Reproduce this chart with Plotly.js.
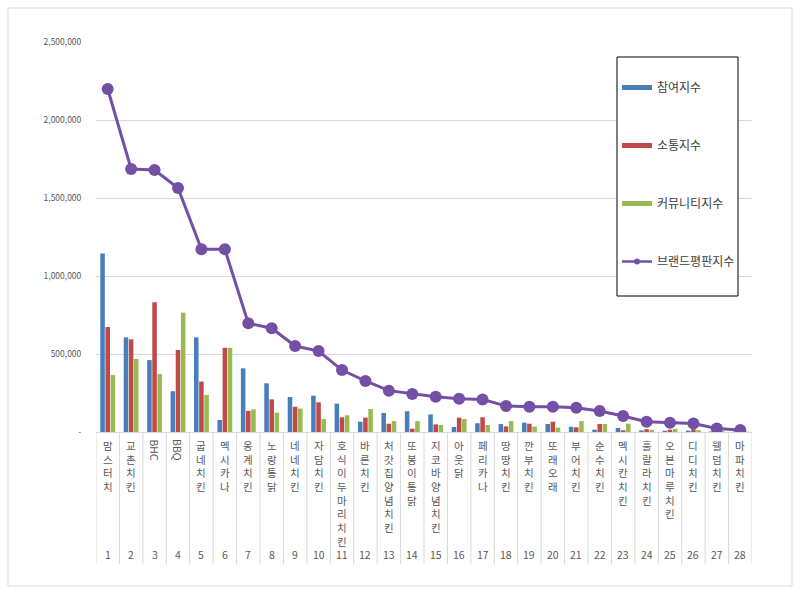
<!DOCTYPE html>
<html>
<head>
<meta charset="utf-8">
<script src="https://cdn.plot.ly/plotly-3.0.1.min.js"></script>
<style>html,body{margin:0;padding:0;background:#fff;}#chart{width:800px;height:594px;}</style>
</head>
<body>
<div id="chart"></div>
<script>
const categories = ["맘스터치","교촌치킨","BHC","BBQ","굽네치킨","멕시카나","옹계치킨","노랑통닭","네네치킨","자담치킨","호식이두마리치킨","바른치킨","처갓집양념치킨","또봉이통닭","지코바양념치킨","아웃닭","페리카나","땅땅치킨","깐부치킨","또래오래","부어치킨","순수치킨","멕시칸치킨","훌랄라치킨","오븐마루치킨","디디치킨","웰덤치킨","마파치킨"];
const ranks = ["1","2","3","4","5","6","7","8","9","10","11","12","13","14","15","16","17","18","19","20","21","22","23","24","25","26","27","28"];
const participation = [1145000,607000,461000,261000,607000,77000,408000,312000,224000,233000,182000,66000,122000,133000,113000,32000,56000,51000,60000,51000,34000,15000,26000,10000,8000,9000,4000,3000];
const communication = [673000,594000,831000,526000,323000,540000,135000,209000,162000,190000,94000,92000,53000,21000,49000,92000,94000,36000,53000,66000,30000,51000,11000,18000,15000,18000,8000,5000];
const community = [365000,468000,372000,765000,237000,540000,145000,124000,150000,83000,107000,147000,70000,70000,45000,83000,45000,70000,34000,28000,70000,51000,53000,14000,20000,12000,6000,4000];
const brandIndex = [2199000,1686000,1679000,1564000,1171000,1171000,697000,665000,551000,519000,397000,327000,265000,244000,226000,213000,209000,167000,162000,162000,156000,135000,103000,66000,60000,55000,23000,13000];
const seriesNames = ["참여지수","소통지수","커뮤니티지수","브랜드평판지수"];
const yTickVals = [0,500000,1000000,1500000,2000000,2500000];
const yTickText = ["-","500,000","1,000,000","1,500,000","2,000,000","2,500,000"];

const colors = ["#4a7ebb","#be4b48","#98b954","#7350a6"];
const font = "Noto Sans CJK KR, Noto Sans, sans-serif";

const traces = [];
[participation, communication, community].forEach((vals, i) => {
  traces.push({type:"bar", x:categories, y:vals, name:seriesNames[i], marker:{color:colors[i]}, showlegend:false, hoverinfo:"y"});
});
traces.push({type:"scatter", mode:"lines+markers", x:categories, y:brandIndex, name:seriesNames[3],
  line:{color:colors[3], width:3}, marker:{color:colors[3], size:12}, showlegend:false});
// legend entries
[0,1,2].forEach(i => traces.push({type:"scatter", mode:"lines", x:[null], y:[null], name:seriesNames[i],
  line:{color:colors[i], width:5}, legendgroup:"g"+i, hoverinfo:"skip"}));
traces.push({type:"scatter", mode:"lines+markers", x:[null], y:[null], name:seriesNames[3],
  line:{color:colors[3], width:2.5}, marker:{color:colors[3], size:6}, legendgroup:"g3", hoverinfo:"skip"});

const L = 96, R = 48, T = 42, B = 162;
const W = 800 - L - R, H = 594 - T - B;
const px = v => (v - L) / W;
const py = v => (594 - B - v) / H;

const annotations = [];
const shapes = [];
categories.forEach((c, i) => {
  const latin = /^[A-Za-z]+$/.test(c);
  if (latin) {
    annotations.push({x:c, xref:"x", y:py(437), yref:"paper", yanchor:"top", xanchor:"center", textangle:90,
      text:c, showarrow:false, font:{family:font, size:10.5, color:"#595959"}});
  } else {
    annotations.push({x:c, xref:"x", y:py(436), yref:"paper", yanchor:"top", xanchor:"center",
      text:Array.from(c).join("<br>"), showarrow:false, font:{family:font, size:10.5, color:"#595959"}});
  }
  annotations.push({x:c, xref:"x", y:py(554), yref:"paper", yanchor:"middle", xanchor:"center",
    text:ranks[i], showarrow:false, font:{family:font, size:10.5, color:"#595959"}});
});
for (let i = 0; i <= categories.length; i++) {
  shapes.push({type:"line", xref:"x", x0:i-0.5, x1:i-0.5, yref:"paper", y0:0, y1:py(564), line:{color:"#d9d9d9", width:1}});
}
// outer chart border
shapes.push({type:"rect", xref:"paper", yref:"paper", x0:px(8), x1:px(792), y0:py(586), y1:py(8), line:{color:"#d9d9d9", width:1}, layer:"below"});
// legend box
shapes.push({type:"rect", xref:"paper", yref:"paper", x0:px(617), x1:px(738), y0:py(296), y1:py(57), line:{color:"#000000", width:1}, fillcolor:"#ffffff", layer:"above"});

const layout = {
  width:800, height:594,
  margin:{l:L, r:R, t:T, b:B},
  paper_bgcolor:"#ffffff", plot_bgcolor:"#ffffff",
  barmode:"group", bargap:0.34, bargroupgap:0.12,
  font:{family:font, color:"#595959"},
  xaxis:{type:"category", range:[-0.5, categories.length-0.5], showticklabels:false, showgrid:false, zeroline:false, showline:false, ticks:""},
  yaxis:{range:[0,2500000], tickvals:yTickVals, ticktext:yTickText, showgrid:true, gridcolor:"#d9d9d9", gridwidth:1,
    zeroline:true, zerolinecolor:"#d9d9d9", showline:false, ticks:"outside", ticklen:12, tickcolor:"rgba(0,0,0,0)",
    tickfont:{family:font, size:8.5, color:"#595959"}},
  legend:{x:px(617), y:py(73), xanchor:"left", yanchor:"top", bgcolor:"rgba(0,0,0,0)", borderwidth:0,
    tracegroupgap:39, font:{family:font, size:12, color:"#404040"}, itemwidth:30},
  annotations:annotations,
  shapes:shapes,
  showlegend:true
};

Plotly.newPlot("chart", traces, layout, {displayModeBar:false, staticPlot:true});
</script>
</body>
</html>
